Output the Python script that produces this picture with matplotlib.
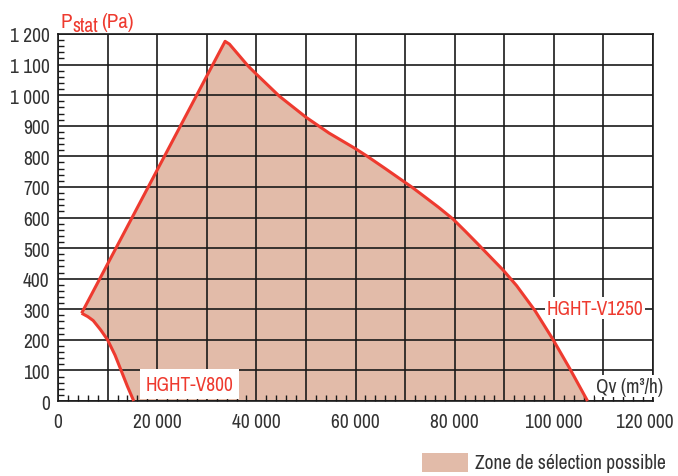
import matplotlib
matplotlib.use("Agg")
import matplotlib.pyplot as plt
from matplotlib.ticker import MultipleLocator, FuncFormatter
from matplotlib.patches import Rectangle
from matplotlib.transforms import ScaledTranslation

plt.rcParams['font.family'] = ['Archivo Narrow', 'DejaVu Sans']

# Data (Qv in m3/h, Pstat in Pa)
rise_q = [4760, 33700]
rise_p = [287, 1176]
v1250_q = [33700, 34570, 38250, 39800, 44620, 50000, 54670, 60000, 62300, 66000,
           68740, 71400, 74100, 76780, 79660, 82150, 84820, 87500, 89780,
           92500, 96220, 99760, 103250, 106800]
v1250_p = [1176, 1167, 1097, 1072, 997, 928, 876, 825, 801, 760,
           729, 699, 666, 633, 595, 555, 511, 466, 428,
           377, 295, 203, 105, 0]
v800_q = [4760, 6000, 7100, 8580, 10000, 11500, 12800, 14000, 15280]
v800_p = [287, 276, 263, 233, 200, 150, 97, 48, 0]

red = '#EE3A2F'
fill = '#E2BBA9'
txt = '#333333'
grid_c = '#1a1a1a'
fs = 14

fig = plt.figure(figsize=(6.78, 4.77), dpi=100)
ax = fig.add_axes([58/678, 1-402/477, 595/678, 367/477])

# polygon outline: rise -> V1250 curve -> bottom -> V800 reversed
poly_q = rise_q + v1250_q[1:] + v800_q[::-1]
poly_p = rise_p + v1250_p[1:] + v800_p[::-1]
ax.fill(poly_q, poly_p, color=fill, zorder=1, lw=0)

ax.set_xlim(0, 120000)
ax.set_ylim(0, 1200)
ax.xaxis.set_major_locator(MultipleLocator(10000))
ax.yaxis.set_major_locator(MultipleLocator(100))
ax.xaxis.set_minor_locator(MultipleLocator(2000))
ax.yaxis.set_minor_locator(MultipleLocator(20))
ax.grid(True, which='major', color=grid_c, lw=1.2, zorder=2)
ax.set_axisbelow(False)


def fmt_x(v, pos):
    v = int(round(v))
    if v % 20000 != 0:
        return ''
    return f"{v:,}".replace(',', ' ')


def fmt_y(v, pos):
    v = int(round(v))
    return f"{v:,}".replace(',', ' ')


ax.xaxis.set_major_formatter(FuncFormatter(fmt_x))
ax.yaxis.set_major_formatter(FuncFormatter(fmt_y))
ax.tick_params(which='major', length=0, labelsize=fs, labelcolor=txt)
ax.tick_params(axis='y', which='major', pad=6)
ax.tick_params(axis='x', which='major', pad=8)
ax.tick_params(which='minor', direction='in', length=4, width=1, color=grid_c)

for s in ax.spines.values():
    s.set_color(grid_c)
    s.set_linewidth(1.2)
    s.set_zorder(3)

ax.plot(rise_q + v1250_q[1:], rise_p + v1250_p[1:], color=red, lw=2.2,
        zorder=4, solid_joinstyle='round', solid_capstyle='butt', clip_on=False)
ax.plot(v800_q, v800_p, color=red, lw=2.2, zorder=4, solid_joinstyle='round',
        solid_capstyle='butt', clip_on=False)

ax.text(17600, 55, 'HGHT-V800', color=red, fontsize=fs, zorder=5,
        ha='left', va='center',
        bbox=dict(facecolor='white', edgecolor='none', pad=4))
ax.text(98500, 304, 'HGHT-V1250', color=red, fontsize=fs, zorder=5,
        ha='left', va='center',
        bbox=dict(facecolor='white', edgecolor='none', pad=1))
ax.text(108500, 48, 'Qv (m³/h)', color=txt, fontsize=fs, zorder=5,
        ha='left', va='center', clip_on=False,
        bbox=dict(facecolor='white', edgecolor='none', pad=1))

# Y axis title: P with "stat" subscript (same size, lowered) and (Pa)
renderer = fig.canvas.get_renderer()
t1 = fig.text(60/678, 1-28/477, 'P', color=red, fontsize=fs+1, ha='left', va='baseline')
w1 = t1.get_window_extent(renderer).width
t2 = fig.text((60 + w1 + 0.5)/678, 1-31.5/477, 'stat', color=red, fontsize=fs,
              ha='left', va='baseline')
w2 = t2.get_window_extent(renderer).width
fig.text((60 + w1 + 0.5 + w2 + 4)/678, 1-28/477, '(Pa)', color=red, fontsize=fs+1,
         ha='left', va='baseline')

fig.patches.append(Rectangle((422/678, 1-473/477), 46/678, 19/477,
                             transform=fig.transFigure, facecolor=fill,
                             edgecolor='none'))
fig.text(475/678, 1-464/477, 'Zone de sélection possible', color=txt,
         fontsize=fs, ha='left', va='center')

# shift last x label left so that it stays inside the figure
fig.canvas.draw()
for lab in ax.get_xticklabels():
    if lab.get_text() == '120 000':
        lab.set_transform(lab.get_transform() +
                          ScaledTranslation(-8/100, 0, fig.dpi_scale_trans))

fig.savefig('out.png', dpi=100)
